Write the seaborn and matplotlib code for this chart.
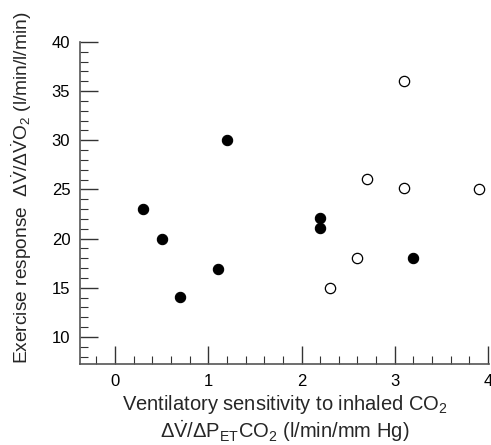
import matplotlib
matplotlib.use("Agg")
import matplotlib.pyplot as plt
import seaborn as sns
import pandas as pd
from matplotlib.ticker import MultipleLocator

filled_x = [0.3, 0.5, 0.7, 1.1, 1.2, 2.2, 2.2, 3.2]
filled_y = [23.0, 20.0, 14.1, 16.9, 30.0, 22.1, 21.05, 18.0]
open_x = [2.3, 2.6, 2.7, 3.1, 3.1, 3.9]
open_y = [15.0, 18.0, 26.1, 36.05, 25.1, 25.0]
x_ticks = [0, 1, 2, 3, 4]
y_ticks = [10, 15, 20, 25, 30, 35, 40]

sns.set_style("white")
plt.rcParams['font.family'] = ['Liberation Sans', 'DejaVu Sans']
plt.rcParams['mathtext.fontset'] = 'custom'
plt.rcParams['mathtext.rm'] = 'Liberation Sans'
plt.rcParams['mathtext.it'] = 'Liberation Sans'
plt.rcParams['mathtext.bf'] = 'Liberation Sans:bold'

df = pd.DataFrame({
    'x': filled_x + open_x,
    'y': filled_y + open_y,
    'group': ['filled'] * len(filled_x) + ['open'] * len(open_x),
})

fig = plt.figure(figsize=(4.91, 4.45), dpi=100)
ax = fig.add_axes([80 / 491, 1 - 364 / 445, (489 - 80) / 491, (364 - 42) / 445])

sns.scatterplot(data=df[df.group == 'filled'], x='x', y='y', ax=ax, s=55,
                color='black', edgecolor='black', linewidth=0.8, legend=False)
sns.scatterplot(data=df[df.group == 'open'], x='x', y='y', ax=ax, s=55,
                facecolor='white', edgecolor='black', linewidth=0.9, legend=False)

ax.set_xlim(-0.375, 4.01)
ax.set_ylim(7.25, 40)
ax.set_xticks(x_ticks)
ax.set_yticks(y_ticks)
ax.xaxis.set_minor_locator(MultipleLocator(0.2))
ax.yaxis.set_minor_locator(MultipleLocator(1))
ax.tick_params(which='major', direction='in', length=13, width=1.0, color='#333333',
               labelsize=12, pad=7, labelcolor='black')
ax.tick_params(which='minor', direction='in', length=6, width=0.8, color='#333333')
ax.tick_params(axis='x', which='both', bottom=True)
ax.tick_params(axis='y', which='both', left=True)

for s in ['top', 'right']:
    ax.spines[s].set_visible(False)
for s in ['left', 'bottom']:
    ax.spines[s].set_color('#555555')
    ax.spines[s].set_linewidth(1.2)

ax.set_xlabel('Ventilatory sensitivity to inhaled CO$_2$\n'
              r'$\Delta\dot{\mathrm{V}}/\Delta\mathrm{P}_{\mathrm{ET}}\mathrm{CO}_2$ (l/min/mm Hg)',
              fontsize=14.5, labelpad=3, linespacing=1.1)
ax.set_ylabel(r'Exercise response  $\Delta\dot{\mathrm{V}}/\Delta\dot{\mathrm{V}}\mathrm{O}_2$ (l/min/l/min)',
              fontsize=13.8)
ax.yaxis.set_label_coords(-0.112, 0.547)

fig.savefig('out.png', dpi=100)
